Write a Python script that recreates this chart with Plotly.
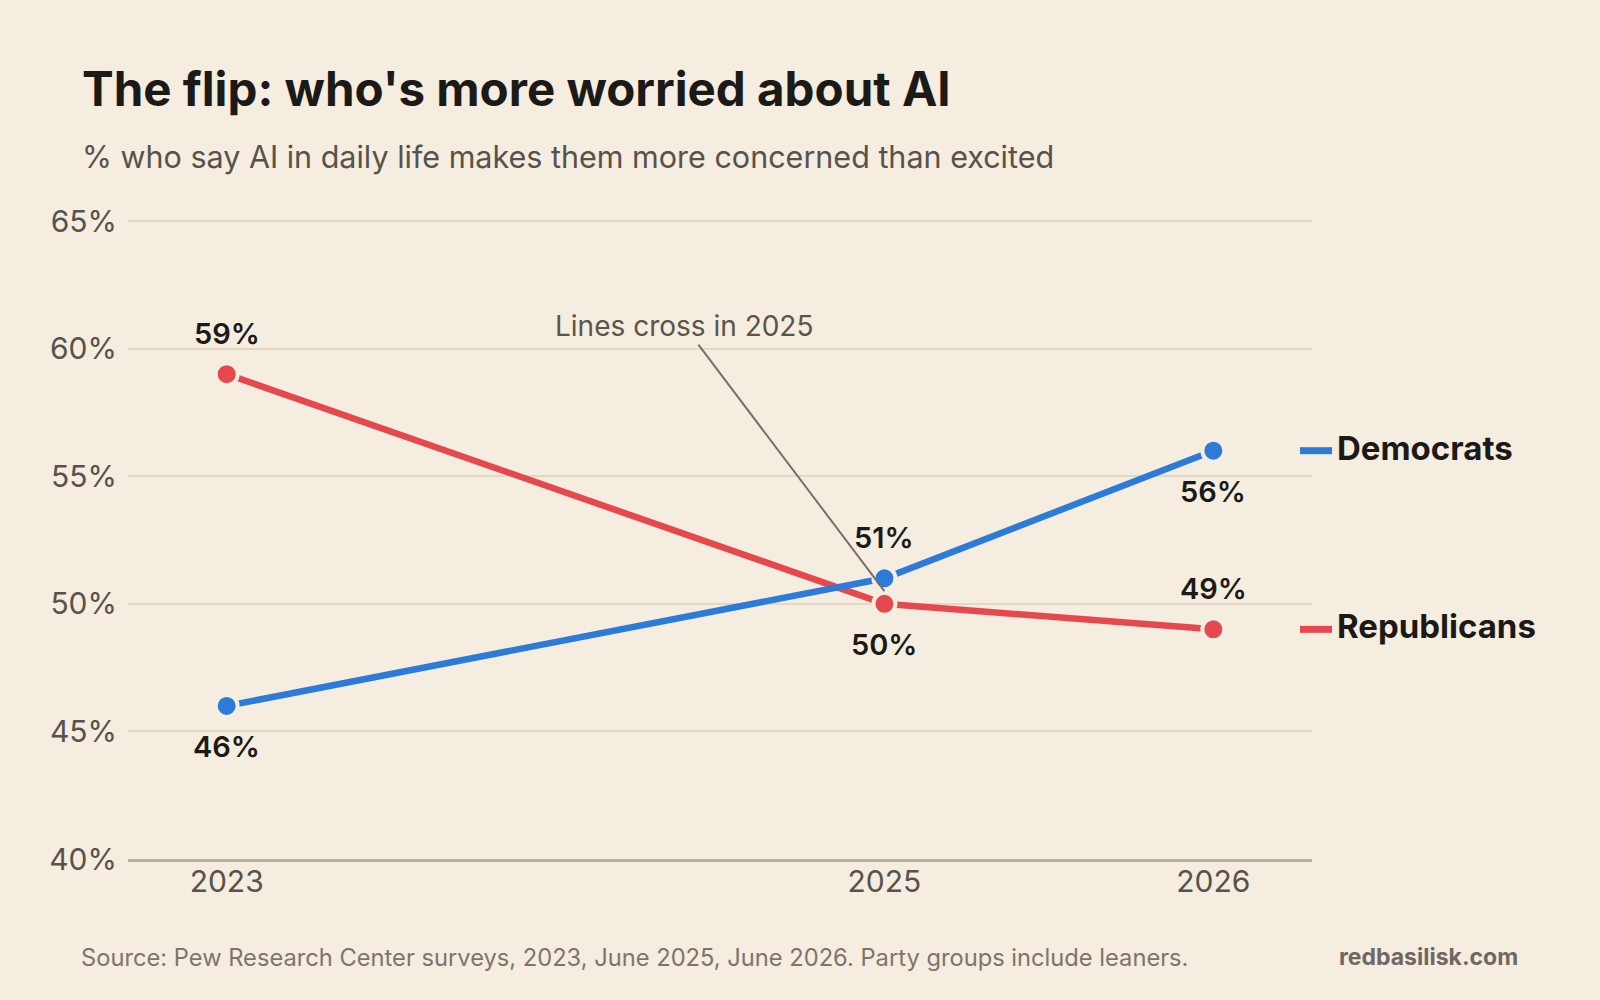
import plotly.graph_objects as go

# survey data (% more concerned than excited)
years = [2023, 2025, 2026]
dem = [46, 51, 56]
rep = [59, 50, 49]
dem_lab_side = ["below", "above", "below"]
rep_lab_side = ["above", "below", "above"]

y_ticks = [40, 45, 50, 55, 60, 65]
y_ticktext = ["40%", "45%", "50%", "55%", "60%", "65%"]

BG = "#F5EDDF"
BLUE = "#2C7BD9"
RED = "#E5484D"
DARK = "#1C1A17"
FONT = "Inter"

# plot box in pixels
L, R, T, B = 128, 1312, 220, 859
W, H = 1600, 1000


def px_x(px):
    return (px - L) / (R - L)


def px_y(py):
    return (B - py) / (B - T)


fig = go.Figure()

for name, vals, col in [("Republicans", rep, RED), ("Democrats", dem, BLUE)]:
    fig.add_trace(go.Scatter(
        x=years, y=vals, mode="lines+markers", name=name,
        line=dict(color=col, width=6.5),
        marker=dict(size=22, color=col, line=dict(color=BG, width=4)),
        hoverinfo="skip", showlegend=False))

anns = []
# point labels
for vals, sides in [(dem, dem_lab_side), (rep, rep_lab_side)]:
    for x, v, s in zip(years, vals, sides):
        anns.append(dict(x=x, y=v, text=f"{v}%", showarrow=False,
                         yshift=41 if s == "above" else -41, yanchor="middle",
                         font=dict(family=FONT, size=29, color=DARK, weight=600)))

# direct labels at right
for name, vals, col in [("Democrats", dem, BLUE), ("Republicans", rep, RED)]:
    fig.add_shape(type="line", xref="paper", yref="y",
                  x0=px_x(1300), x1=px_x(1332), y0=vals[-1], y1=vals[-1],
                  line=dict(color=col, width=7))
    anns.append(dict(xref="paper", yref="y", x=px_x(1335), y=vals[-1],
                     text=name, showarrow=False, xanchor="left", yanchor="middle",
                     yshift=3,
                     font=dict(family=FONT, size=33, color=DARK, weight=700)))

# crossing callout
cross_y = (dem[1] + rep[1]) / 2
anns.append(dict(x=years[1], y=cross_y, text="Lines cross in 2025",
                 showarrow=True, arrowhead=0, arrowwidth=2, arrowcolor="#77706A",
                 ax=-200, ay=-265, standoff=0,
                 font=dict(family=FONT, size=28, color="#5A544D")))

# title, subtitle, footer
anns.append(dict(xref="paper", yref="paper", x=px_x(80), y=px_y(89),
                 text="The flip: who's more worried about AI", showarrow=False,
                 xanchor="left", yanchor="middle",
                 font=dict(family=FONT, size=47.5, color=DARK, weight=700)))
anns.append(dict(xref="paper", yref="paper", x=px_x(80), y=px_y(157),
                 text="% who say AI in daily life makes them more concerned than excited",
                 showarrow=False, xanchor="left", yanchor="middle",
                 font=dict(family=FONT, size=30.5, color="#57524B")))
anns.append(dict(xref="paper", yref="paper", x=px_x(79), y=px_y(957),
                 text="Source: Pew Research Center surveys, 2023, June 2025, June 2026. Party groups include leaners.",
                 showarrow=False, xanchor="left", yanchor="middle",
                 font=dict(family=FONT, size=23.7, color="#7D756C")))
anns.append(dict(xref="paper", yref="paper", x=px_x(1520), y=px_y(957),
                 text="redbasilisk.com", showarrow=False, xanchor="right", yanchor="middle",
                 font=dict(family=FONT, size=23, color="#6F6862", weight=700)))

fig.update_layout(
    width=W, height=H,
    paper_bgcolor=BG, plot_bgcolor=BG,
    margin=dict(l=L, r=W - R, t=T, b=H - B),
    font=dict(family=FONT, color="#57524B"),
    annotations=anns,
    xaxis=dict(range=[2022.7, 2026.3], tickvals=years, ticktext=[str(y) for y in years],
               showgrid=False, zeroline=False, showline=True, linecolor="#BDB19E",
               linewidth=2.5, ticks="", tickfont=dict(size=30, color="#57524B"),
               ticklabelstandoff=-6),
    yaxis=dict(range=[40, 65.04], tickvals=y_ticks, ticktext=y_ticktext,
               showgrid=True, gridcolor="#E3D7C5", gridwidth=2, zeroline=False,
               showline=False, ticks="", tickfont=dict(size=30, color="#57524B"),
               ticklabelstandoff=10),
)

fig.write_html("out.html", config={"displayModeBar": False},
               post_script="document.body.style.margin='0';")
